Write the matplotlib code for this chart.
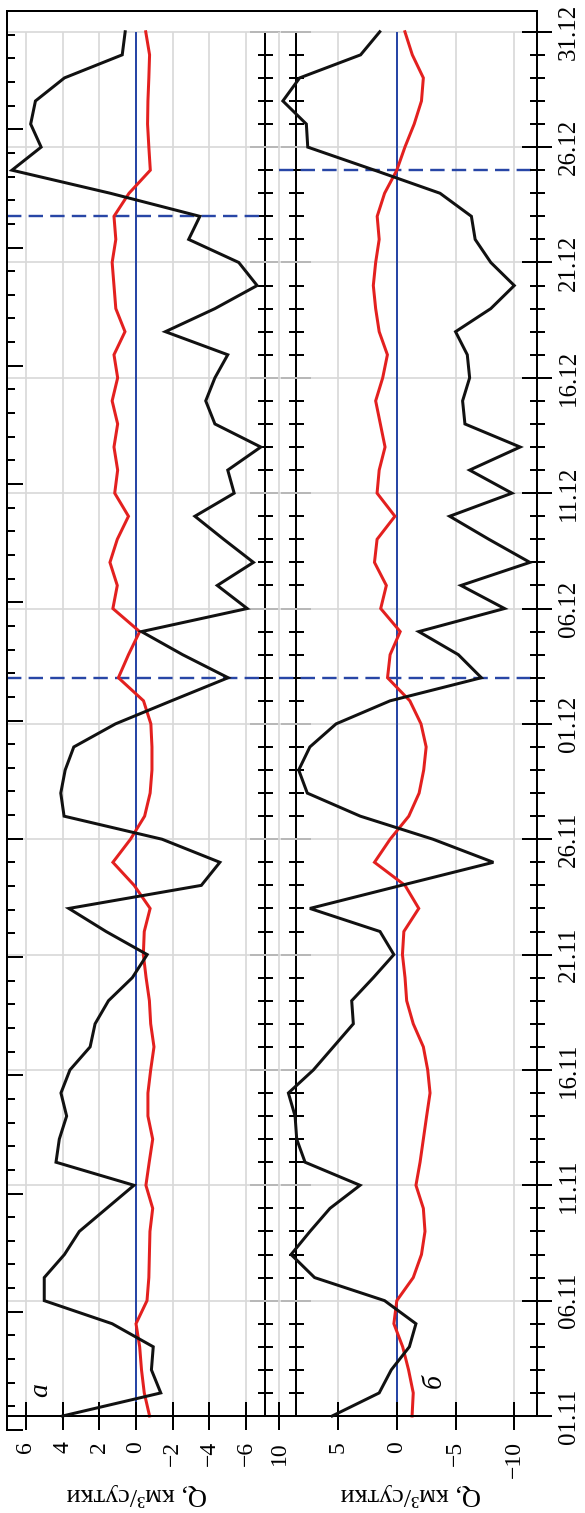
import matplotlib.pyplot as plt
import numpy as np

# daily values, 01.11 .. 31.12
days = np.arange(1, 62)
major_days = days[::5]
date_labels = ['01.11', '06.11', '11.11', '16.11', '21.11', '26.11', '01.12',
               '06.12', '11.12', '16.12', '21.12', '26.12', '31.12']

a_ticks = [6, 4, 2, 0, -2, -4, -6]
b_ticks = [10, 5, 0, -5, -10]

a_black = [4.0, -1.35, -0.84, -0.94, 1.3, 5.0, 5.0, 3.9, 3.09, 1.6,
           0.11, 4.36, 4.18, 3.78, 4.09, 3.6, 2.5, 2.23, 1.5, 0.2,
           -0.61, 1.63, 3.66, -3.56, -4.57, -1.42, 3.92, 4.1, 3.86, 3.39,
           1.12, -1.93, -5.02, -2.54, -0.3, -6.06, -4.43, -6.4, -4.78, -3.21,
           -5.35, -5.0, -6.8, -4.3, -3.8, -4.3, -5.0, -1.6, -4.3, -6.6,
           -5.6, -2.87, -3.48, 1.4, 6.76, 5.17, 5.74, 5.48, 3.9, 0.75,
           0.59]
a_red = [-0.74, -0.45, -0.3, -0.2, 0.0, -0.6, -0.7, -0.73, -0.76, -0.91,
         -0.54, -0.72, -0.91, -0.65, -0.65, -0.8, -0.98, -0.8, -0.73, -0.55,
         -0.4, -0.45, -0.77, 0.1, 1.26, 0.3, -0.47, -0.77, -0.87, -0.87,
         -0.81, -0.41, 0.96, 0.41, -0.2, 1.26, 1.02, 1.42, 1.02, 0.41,
         1.16, 1.0, 1.2, 1.0, 1.3, 1.0, 1.2, 0.6, 1.1, 1.2,
         1.3, 1.1, 1.2, 0.38, -0.78, -0.7, -0.63, -0.65, -0.7, -0.74,
         -0.53]
b_black = [5.5, 1.5, 0.47, -1.07, -1.63, 1.04, 7.0, 9.0, 7.39, 5.69,
           3.13, 7.81, 8.52, 8.66, 9.23, 7.1, 5.4, 3.7, 3.84, 2.0,
           0.25, 1.43, 7.4, -0.38, -8.22, -3.08, 3.11, 7.62, 8.35, 7.4,
           5.17, 0.57, -7.2, -5.24, -1.87, -9.17, -5.46, -11.33, -7.84, -4.5,
           -9.8, -6.2, -10.5, -5.8, -5.6, -6.2, -6.0, -5.0, -8.0, -10.0,
           -8.0, -6.67, -6.35, -3.68, 1.9, 7.58, 7.7, 9.7, 8.27, 3.08,
           1.45]
b_red = [-1.3, -1.4, -1.0, -0.5, 0.25, 0.0, -1.4, -2.1, -2.4, -2.26,
         -1.63, -1.98, -2.26, -2.54, -2.83, -2.63, -2.26, -1.4, -0.84, -0.7,
         -0.48, -0.6, -1.87, -0.7, 1.9, 0.57, -1.02, -1.9, -2.29, -2.5,
         -2.06, -1.11, 0.79, 0.57, -0.29, 1.37, 0.89, 1.9, 1.68, 0.16,
         1.68, 1.5, 1.0, 1.4, 1.8, 1.2, 0.8, 1.5, 1.8, 2.0,
         1.8, 1.5, 1.67, 1.04, 0.0, -0.69, -1.48, -2.1, -2.26, -1.32,
         -0.69]

a_marks = [33, 53]
b_marks = [33, 55]

plt.rcParams['font.family'] = ['Liberation Serif', 'DejaVu Serif']
plt.rcParams['axes.unicode_minus'] = True

W, H = 585, 1513
PX = 72 / 100  # points per pixel
BLACK = '#111111'
RED = '#e3201f'
BLUE = '#2846a6'
GRID = '#d9d9d9'

fig = plt.figure(figsize=(W / 100, H / 100), dpi=100)


def box(x0, y0, x1, y1):
    return [x0 / W, 1 - y1 / H, (x1 - x0) / W, (y1 - y0) / H]


ylim = (0.393, 61.9)
ax_a = fig.add_axes(box(7, 11, 265, 1430))
ax_b = fig.add_axes(box(265, 11, 537.3, 1430))
ax_a.set_xlim(7.03, -7.03)
ax_b.set_xlim(11.22, -11.96)

panels = [(ax_a, a_ticks, a_black, a_red, a_marks, 7.03),
          (ax_b, b_ticks, b_black, b_red, b_marks, 10)]
for ax, ticks, black, red, marks, dash_from in panels:
    ax.set_ylim(*ylim)
    ax.patch.set_visible(False)
    for s in ['left', 'right', 'top']:
        ax.spines[s].set_visible(False)
    ax.spines['bottom'].set_position(('data', 1))
    ax.spines['bottom'].set_linewidth(2 * PX)
    ax.set_xticks(ticks)
    ax.tick_params(axis='x', direction='inout', length=28 * PX, width=2 * PX,
                   pad=8, labelsize=17, labelrotation=90)
    ax.set_yticks([])
    x0, x1 = ax.get_xlim()
    ax.vlines(ticks, 1, 61, color=GRID, lw=1.7 * PX, zorder=0.5)
    ax.hlines(major_days, x0, x1, color=GRID, lw=1.7 * PX, zorder=0.5)
    ax.vlines(0, 1, 61, color=BLUE, lw=2 * PX, zorder=1)
    ax.hlines(marks, dash_from, x1, color=BLUE, lw=2.4 * PX,
              linestyles=(0, (6, 3)), zorder=1)
    ax.plot(red, days, color=RED, lw=3 * PX, zorder=2, solid_joinstyle='miter')
    ax.plot(black, days, color=BLACK, lw=3 * PX, zorder=3, solid_joinstyle='miter')

    # inner date axis with crossing ticks
    loc = 1.0 if ax is ax_a else 31 / 272.3
    sec = ax.secondary_yaxis(loc)
    sec.set_yticks(major_days)
    sec.set_yticks(days, minor=True)
    sec.tick_params(which='major', direction='inout', length=30 * PX, width=2 * PX,
                    labelright=False, labelleft=False)
    sec.tick_params(which='minor', direction='inout', length=15 * PX, width=2 * PX)
    for s in sec.spines.values():
        s.set_bounds(1, 61)
        s.set_linewidth(2 * PX)

# outer date axis with labels
ax_b.spines['right'].set_visible(True)
ax_b.spines['right'].set_bounds(1, ylim[1])
ax_b.spines['right'].set_linewidth(2 * PX)
ax_b.yaxis.tick_right()
ax_b.set_yticks(major_days, labels=date_labels)
ax_b.set_yticks(days, minor=True)
ax_b.tick_params(axis='y', which='major', direction='inout', length=30 * PX,
                 width=2 * PX, pad=4, labelsize=18, labelrotation=90)
ax_b.tick_params(axis='y', which='minor', direction='inout', length=15 * PX,
                 width=2 * PX)
for lab in ax_b.get_yticklabels():
    lab.set_va('center')

for ax, fx in [(ax_a, 0.504), (ax_b, 0.536)]:
    ax.set_xlabel('Q, км³/сутки', fontsize=19, rotation=180, va='center')
    ax.xaxis.set_label_coords(fx, -0.0458)

ax_a.text(5.18, 2.13, 'а', fontsize=20, style='italic', rotation=90,
          ha='center', va='center')
ax_b.text(-3.17, 2.5, 'б', fontsize=20, style='italic', rotation=90,
          ha='center', va='center')

# frame with its own left date scale
frame = fig.add_axes(box(7, 11, 537.3, 1430))
frame.set_xlim(0, 1)
frame.set_ylim(1, 61)
frame.patch.set_visible(False)
frame.spines[['right', 'bottom']].set_visible(False)
frame.spines[['left', 'top']].set_linewidth(2 * PX)
frame.set_xticks([])
frame.set_yticks(major_days)
frame.set_yticks(days, minor=True)
frame.tick_params(axis='y', which='major', direction='in', length=16 * PX,
                  width=2 * PX, labelleft=False)
frame.tick_params(axis='y', which='minor', direction='in', length=8 * PX,
                  width=2 * PX)

fig.savefig('out.png', dpi=100)
